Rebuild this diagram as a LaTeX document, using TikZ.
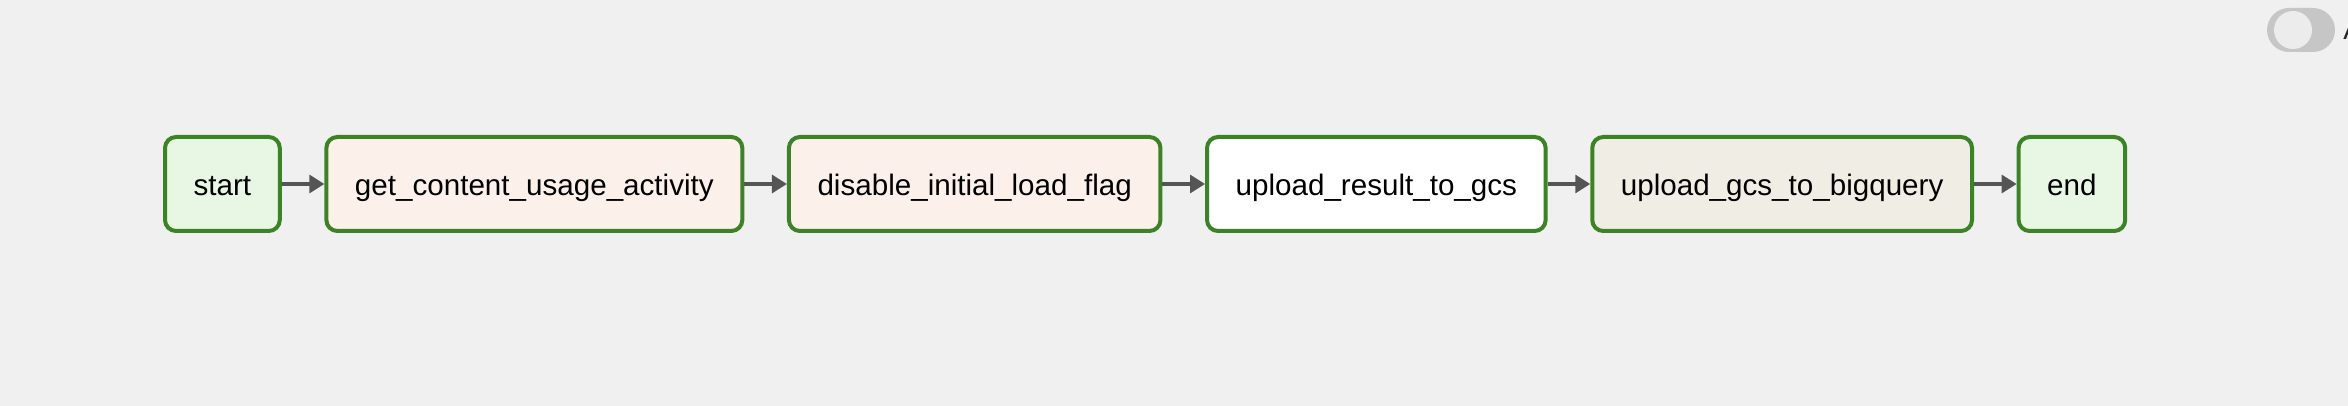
\documentclass[tikz,border=0pt]{standalone}
\usepackage{fontspec}
\setmainfont{Liberation Sans}
\usepackage{xcolor}
\usepackage{tikz}
\usetikzlibrary{positioning,arrows.meta}
\definecolor{bgc}{RGB}{240,240,240}
\definecolor{okc}{RGB}{60,130,38}
\definecolor{emptyc}{RGB}{232,247,228}
\definecolor{pyc}{RGB}{252,240,235}
\definecolor{gcsbqc}{RGB}{240,238,228}
\definecolor{edgec}{RGB}{85,85,85}
\definecolor{togglec}{RGB}{198,198,198}
\definecolor{knobc}{RGB}{236,236,236}
\tikzset{
  task/.style    = {draw=okc, line width=2pt, rounded corners=5.5pt,
                    minimum height=47pt, inner xsep=14.3pt, align=center,
                    text height=12pt, text depth=0pt,
                    font=\fontsize{14.8}{17}\selectfont},
  emptytask/.style = {task, fill=emptyc},
  pytask/.style  = {task, fill=pyc},
  plaintask/.style = {task, fill=white},
  bqtask/.style  = {task, fill=gcsbqc},
  flow/.style    = {-{Triangle[length=7.5pt, width=9pt]}, line width=1.6pt, draw=edgec},
}

\begin{document}
\begin{tikzpicture}[x=1pt, y=-1pt, node distance=21.3pt]
\fill[bgc] (0,0) rectangle (1174,203);
\useasboundingbox (0,0) rectangle (1174,203);

% toggle in the corner
\fill[togglec, rounded corners=11pt] (1133.5,4) rectangle (1167.5,26);
\fill[knobc] (1146.5,15) circle (9.5pt);
\node[anchor=west, inner sep=0pt, font=\fontsize{14}{16}\selectfont, text=black!85] (autolbl) at (1171.5,15) {A};

% the dag
\node[emptytask, anchor=west] (start) at (81.5,92) {start};
\node[pytask, right=of start] (getusage) {get\_content\_usage\_activity};
\node[pytask, right=of getusage] (disableflag) {disable\_initial\_load\_flag};
\node[plaintask, right=of disableflag] (togcs) {upload\_result\_to\_gcs};
\node[bqtask, right=of togcs] (tobq) {upload\_gcs\_to\_bigquery};
\node[emptytask, right=of tobq] (end) {end};

\draw[flow] (start) -- (getusage);
\draw[flow] (getusage) -- (disableflag);
\draw[flow] (disableflag) -- (togcs);
\draw[flow] (togcs) -- (tobq);
\draw[flow] (tobq) -- (end);

\end{tikzpicture}
\end{document}
